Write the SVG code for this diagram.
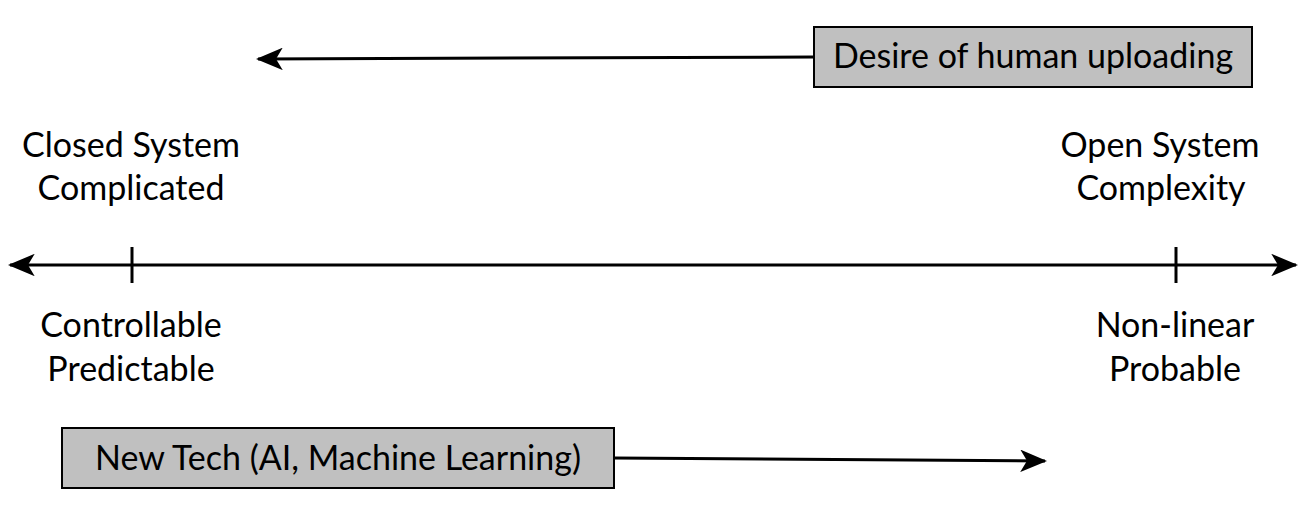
<svg xmlns="http://www.w3.org/2000/svg" width="1311" height="514" viewBox="0 0 1311 514">
<style>
.t{font-family:Lato,"Liberation Sans",sans-serif;font-size:34px;fill:#000;text-anchor:middle}
.box{fill:#c0c0c0;stroke:#000;stroke-width:2}
.ln{stroke:#000;stroke-width:3;fill:none}
</style>
<defs>
<marker id="ah" viewBox="0 0 12 10" refX="11" refY="5" markerWidth="9" markerHeight="7.5" orient="auto-start-reverse" markerUnits="strokeWidth">
<path d="M0,0 L12,5 L0,10 L3,5 Z" fill="#000"/>
</marker>
</defs>
<rect width="1311" height="514" fill="#fff"/>
<g id="connectors">
<line class="ln" x1="10" y1="265" x2="1296" y2="265" marker-start="url(#ah)" marker-end="url(#ah)"/>
<line class="ln" x1="132" y1="247" x2="132" y2="283"/>
<line class="ln" x1="1176" y1="247" x2="1176" y2="283"/>
<line class="ln" x1="814" y1="57" x2="258" y2="59" marker-end="url(#ah)"/>
<line class="ln" x1="614" y1="458" x2="1045" y2="461" marker-end="url(#ah)"/>
</g>
<g id="desire">
<rect class="box" x="814" y="27" width="438" height="60"/>
<text class="t" x="1033" y="68">Desire of human uploading</text>
</g>
<g id="newtech">
<rect class="box" x="62" y="428" width="552" height="60"/>
<text class="t" x="338" y="470">New Tech (AI, Machine Learning)</text>
</g>
<g id="closed">
<text class="t" x="131" y="157">Closed System</text>
<text class="t" x="131" y="200">Complicated</text>
</g>
<g id="open">
<text class="t" x="1160" y="157">Open System</text>
<text class="t" x="1161" y="200">Complexity</text>
</g>
<g id="controllable">
<text class="t" x="131" y="337">Controllable</text>
<text class="t" x="131" y="381">Predictable</text>
</g>
<g id="nonlinear">
<text class="t" x="1175" y="337">Non-linear</text>
<text class="t" x="1175" y="381">Probable</text>
</g>
</svg>
